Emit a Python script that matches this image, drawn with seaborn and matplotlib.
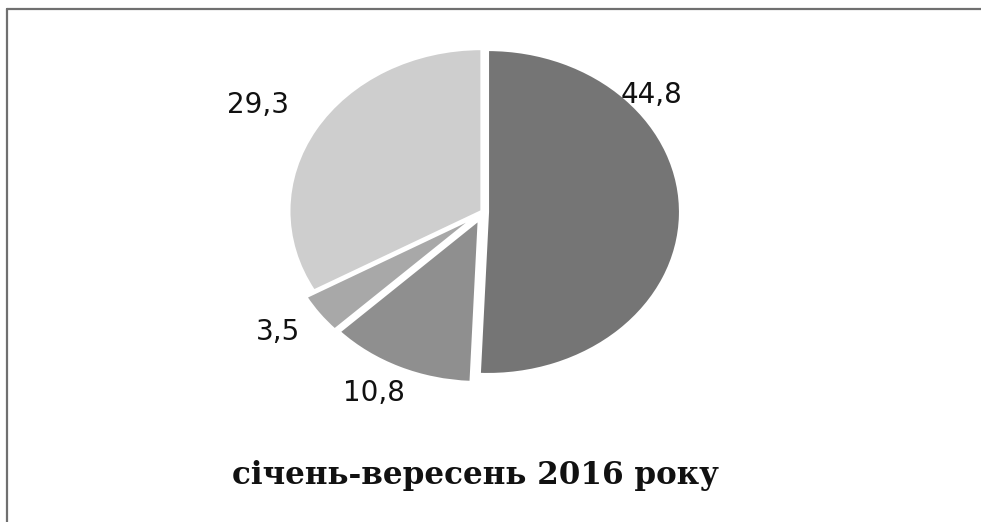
import matplotlib
matplotlib.use("Agg")
import matplotlib.pyplot as plt
from matplotlib.lines import Line2D
import seaborn as sns

# shares, % (order: clockwise from 12 o'clock)
values = [44.8, 10.8, 3.5, 29.3]
colors = ["#757575", "#8f8f8f", "#a8a8a8", "#cecece"]
explode = [0.025, 0.055, 0.06, 0.01]
# label placement (pie units, excel "best fit" style)
label_x = [0.875, -0.57, -1.07, -1.17]
label_y = [0.72, -1.12, -0.74, 0.66]
title = "січень-вересень 2016 року"

sns.set_theme(style="white")
plt.rcParams['font.family'] = ['DejaVu Sans']

fig = plt.figure(figsize=(9.81, 5.22), dpi=100)
ax = fig.add_axes([0.2575, 0.2215, 0.47, 0.745])

wedges, _ = ax.pie(values, colors=colors, startangle=90, counterclock=False,
                   explode=explode, radius=1.0,
                   wedgeprops=dict(edgecolor="white", linewidth=1.6))
ax.set_aspect("auto")
ax.set_xlim(-1.2, 1.2)
ax.set_ylim(-1.2, 1.2)
ax.axis("off")

for v, x, y in zip(values, label_x, label_y):
    ax.text(x, y, str(v).replace(".", ","), ha="center", va="center",
            fontsize=20, color="#111111", clip_on=False)

fig.text(0.485, 0.09, title, ha="center", va="center", fontsize=22.3,
         fontweight="bold", family=["DejaVu Serif"], color="#111111")

# frame (top + left only, like the scanned source)
fig.add_artist(Line2D([6.5/981, 1], [1-8.5/522, 1-8.5/522], color="#707070", lw=1.6))
fig.add_artist(Line2D([6.5/981, 6.5/981], [0, 1-8.5/522], color="#707070", lw=1.6))

fig.savefig("out.png", dpi=100, facecolor="white")
